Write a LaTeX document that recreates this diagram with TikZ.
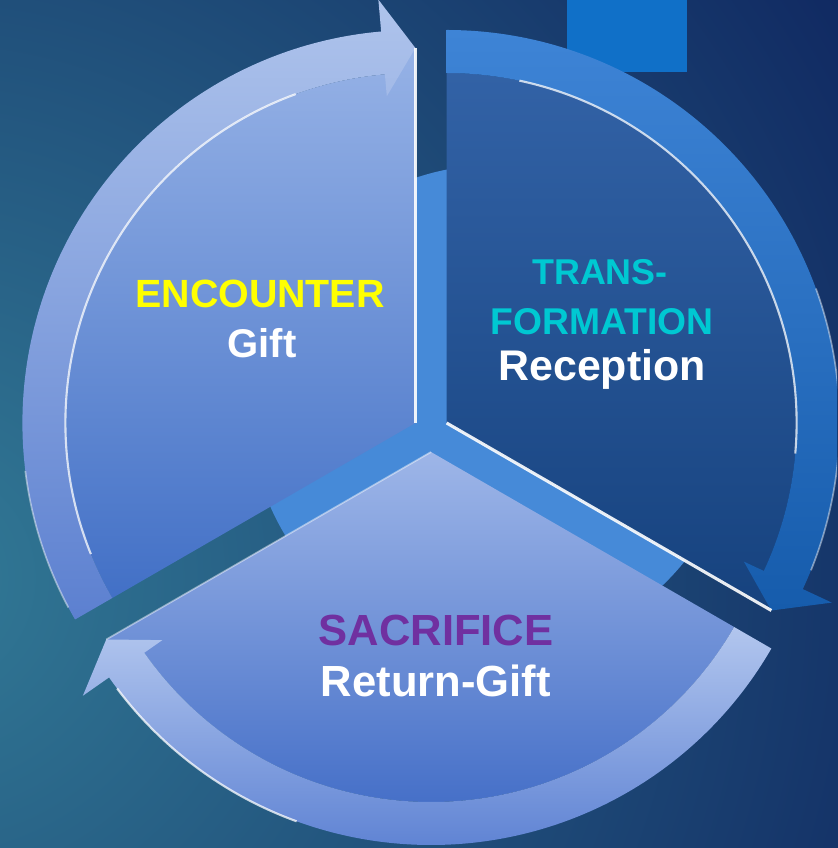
\documentclass[tikz,border=0pt]{standalone}
\usepackage{fontspec}
\setmainfont{Liberation Sans}
\usepackage{xcolor}
\usepackage{tikz}
\usetikzlibrary{positioning}
\pgfdeclarelayer{bglayer}
\pgfsetlayers{bglayer,main}
\definecolor{bgteal}{RGB}{50,122,150}
\definecolor{bgnavy}{RGB}{10,26,88}
\definecolor{diskblue}{RGB}{70,138,216}
\definecolor{boxblue}{RGB}{16,112,200}
\definecolor{lbodytop}{RGB}{150,178,230}
\definecolor{lbodybot}{RGB}{66,112,198}
\definecolor{lbandtop}{RGB}{175,196,236}
\definecolor{lbandbot}{RGB}{92,128,208}
\definecolor{rbodytop}{RGB}{50,98,166}
\definecolor{rbodybot}{RGB}{22,66,126}
\definecolor{rbandtop}{RGB}{62,132,214}
\definecolor{rbandbot}{RGB}{22,92,172}
\definecolor{bbodytop}{RGB}{158,182,232}
\definecolor{bbodybot}{RGB}{70,112,200}
\definecolor{bbandtop}{RGB}{178,198,238}
\definecolor{bbandbot}{RGB}{96,132,212}
\definecolor{enccol}{RGB}{255,255,0}
\definecolor{transcol}{RGB}{0,200,210}
\definecolor{sacrcol}{RGB}{112,48,160}
\tikzset{
    glow/.style = {draw=white, line width=1.5, opacity=0.75},
    edgeglow/.style = {draw=white, line width=2.2, opacity=0.9},
    softglow/.style = {draw=white, line width=1.2, opacity=0.45},
    lbl/.style = {anchor=base, inner sep=0pt}
}

\begin{document}
\begin{tikzpicture}[x=0.025cm,y=0.025cm]
  \useasboundingbox (0,0) rectangle (837,848);
  \clip (0,0) rectangle (837,848);
  \begin{pgfonlayer}{bglayer}
    \fill [bgnavy] (0,0) rectangle (837,848);
    \shade [inner color=bgteal, outer color=bgnavy] (-80,270) circle (1300);
  \end{pgfonlayer}
  \fill [diskblue] (494,439) circle (244);
  \fill [boxblue] (567,776) rectangle (687,848);
  % left part
  \coordinate (lapex) at (415.4,425);
  \begin{scope}[shift={(lapex)}]
    \shade [top color=lbodytop, bottom color=lbodybot] (0,0) -- (210:350) arc [start angle=210, end angle=95, radius=350] -- (90:375) -- cycle;
    \shade [top color=lbandtop, bottom color=lbandbot] (210:393) arc [start angle=210, end angle=95, radius=393] -- (95:425) -- (90:375) -- (95:328) -- (95:350) arc [start angle=95, end angle=210, radius=350] -- cycle;
    \draw [edgeglow] (0,0) -- (90:375);
    \draw [glow] (202:350) arc [start angle=202, end angle=110, radius=350];
    \draw [softglow] (208:393) arc [start angle=208, end angle=187, radius=393];
  \end{scope}
  % right part
  \coordinate (rapex) at (446.6,425);
  \begin{scope}[shift={(rapex)}]
    \shade [top color=rbodytop, bottom color=rbodybot] (0,0) -- (90:350) arc [start angle=90, end angle=-25, radius=350] -- (-30:375) -- cycle;
    \shade [top color=rbandtop, bottom color=rbandbot] (90:393) arc [start angle=90, end angle=-25, radius=393] -- (-25:425) -- (-30:375) -- (-25:328) -- (-25:350) arc [start angle=-25, end angle=90, radius=350] -- cycle;
    \draw [edgeglow] (0,0) -- (-30:375);
    \draw [glow] (78:350) arc [start angle=78, end angle=-5, radius=350];
    \draw [softglow] (20:393) arc [start angle=20, end angle=-22, radius=393];
  \end{scope}
  % bottom part
  \coordinate (bapex) at (431,396);
  \begin{scope}[shift={(bapex)}]
    \shade [top color=bbodytop, bottom color=bbodybot] (0,0) -- (330:350) arc [start angle=330, end angle=215, radius=350] -- (210:375) -- cycle;
    \shade [top color=bbandtop, bottom color=bbandbot] (330:393) arc [start angle=330, end angle=215, radius=393] -- (215:425) -- (210:375) -- (215:328) -- (215:350) arc [start angle=215, end angle=330, radius=350] -- cycle;
    \draw [softglow] (0,0) -- (210:375);
    \draw [glow] (250:393) arc [start angle=250, end angle=217, radius=393];
  \end{scope}
  % labels
  \node [lbl, text=enccol, font=\bfseries\fontsize{28}{30}\selectfont] (enc) at (260,540) {ENCOUNTER};
  \node [lbl, text=white, font=\bfseries\fontsize{28.5}{30}\selectfont] (gift) at (262,490) {Gift};
  \node [lbl, text=transcol, font=\bfseries\fontsize{25.5}{28}\selectfont] (trans) at (600,563) {TRANS-};
  \node [lbl, text=transcol, font=\bfseries\fontsize{26.5}{28}\selectfont] (form) at (602,513) {FORMATION};
  \node [lbl, text=white, font=\bfseries\fontsize{30.5}{32}\selectfont] (recep) at (602,467) {Reception};
  \node [lbl, text=sacrcol, font=\bfseries\fontsize{31}{34}\selectfont] (sacr) at (436,202) {SACRIFICE};
  \node [lbl, text=white, font=\bfseries\fontsize{31}{34}\selectfont] (retgift) at (436,151) {Return-Gift};
\end{tikzpicture}
\end{document}
